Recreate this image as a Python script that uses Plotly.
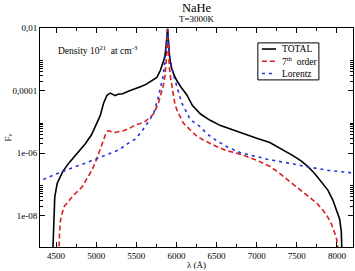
import plotly.graph_objects as go

# ---------------- data ----------------
total_wl = [4455, 4462, 4471, 4484, 4514, 4550, 4583, 4658, 4750, 4865, 4940, 4990,
            5050, 5093, 5135, 5176, 5210, 5238, 5270, 5300, 5330, 5400, 5486, 5560,
            5620, 5700, 5756, 5800, 5818, 5840, 5859, 5872, 5880, 5886, 5890, 5894,
            5900, 5912, 5925, 5942, 5970, 6004, 6060, 6128, 6200, 6300, 6420, 6550,
            6700, 6850, 7000, 7163, 7300, 7452, 7557, 7639, 7722, 7825, 7887, 7949,
            8000, 8033, 8054, 8062, 8066]
total_f = [3.2e-10, 1.6e-09, 1.0e-08, 4.0e-08, 1.07e-07, 1.78e-07, 2.57e-07, 4.8e-07,
           9.3e-07, 2.0e-06, 3.8e-06, 7.1e-06, 1.58e-05, 4.0e-05, 7.1e-05, 8.3e-05,
           7.4e-05, 6.9e-05, 7.6e-05, 7.9e-05, 7.9e-05, 9.5e-05, 1.12e-04, 1.35e-04,
           1.58e-04, 2.09e-04, 2.63e-04, 4.47e-04, 6.0e-04, 8.9e-04, 1.41e-03, 2.5e-03,
           4.5e-03, 7.9e-03, 9.5e-03, 7.1e-03, 3.5e-03, 1.41e-03, 7.9e-04, 5.0e-04,
           3.16e-04, 2.09e-04, 1.26e-04, 7.4e-05, 3.3e-05, 1.78e-05, 1.12e-05, 7.6e-06,
           5.6e-06, 4.0e-06, 3.0e-06, 2.19e-06, 1.41e-06, 8.3e-07, 5.6e-07, 3.7e-07,
           2.24e-07, 1.07e-07, 6.6e-08, 3.16e-08, 1.41e-08, 7.9e-09, 3.16e-09, 1.0e-09,
           3.2e-10]

order7_wl = [4530, 4534, 4545, 4555, 4596, 4650, 4700, 4824, 4948, 5011, 5073, 5090,
             5120, 5140, 5160, 5200, 5238, 5290, 5341, 5420, 5486, 5550, 5610, 5672,
             5714, 5776, 5818, 5840, 5859, 5872, 5880, 5886, 5890, 5894, 5900, 5912,
             5925, 5942, 5960, 5983, 6010, 6045, 6086, 6169, 6253, 6335, 6420, 6501,
             6625, 6749, 6870, 6998, 7100, 7163, 7287, 7400, 7494, 7580, 7660, 7750,
             7825, 7880, 7929, 7965, 7991, 8005, 8012, 8018]
order7_f = [3.2e-10, 1.0e-09, 3.2e-09, 7.2e-09, 1.9e-08, 2.8e-08, 4.0e-08, 8.3e-08,
            2.9e-07, 6.9e-07, 2.09e-06, 2.8e-06, 4.2e-06, 5.0e-06, 5.2e-06, 4.7e-06,
            4.6e-06, 4.9e-06, 5.2e-06, 6.3e-06, 7.9e-06, 8.9e-06, 1.02e-05, 1.41e-05,
            1.78e-05, 4.0e-05, 8.9e-05, 1.58e-04, 3.16e-04, 7.9e-04, 1.78e-03, 5.0e-03,
            8.9e-03, 4.0e-03, 1.41e-03, 5.6e-04, 2.8e-04, 1.41e-04, 7.9e-05, 3.5e-05,
            2.24e-05, 1.51e-05, 9.1e-06, 5.6e-06, 3.5e-06, 2.63e-06, 2.0e-06, 1.62e-06,
            1.2e-06, 1.0e-06, 7.9e-07, 6.0e-07, 4.5e-07, 3.8e-07, 2.24e-07, 1.32e-07,
            8.3e-08, 5.6e-08, 4.0e-08, 2.5e-08, 1.51e-08, 9.5e-09, 5.6e-09, 3.16e-09,
            2.09e-09, 1.26e-09, 1.0e-09, 3.2e-10]

lorentz_wl = [4340, 4576, 4865, 5073, 5279, 5403, 5486, 5569, 5640, 5714, 5776, 5838,
              5866, 5883, 5890, 5897, 5910, 5921, 5962, 6024, 6066, 6128, 6169, 6294,
              6377, 6501, 6625, 6790, 6915, 7142, 7400, 7618, 7900, 8200]
lorentz_f = [1.45e-07, 2.57e-07, 4.8e-07, 7.8e-07, 1.26e-06, 2.09e-06, 2.8e-06, 5.0e-06,
             8.9e-06, 1.78e-05, 6.3e-05, 3.2e-04, 1.82e-03, 5.0e-03, 9.3e-03, 4.0e-03,
             1.58e-03, 1.0e-03, 3.2e-04, 1.0e-04, 4.0e-05, 2.0e-05, 1.2e-05, 7.1e-06,
             4.2e-06, 2.5e-06, 1.62e-06, 1.05e-06, 8.7e-07, 6.3e-07, 4.8e-07, 3.7e-07,
             2.8e-07, 2.34e-07]

x_ticks = [4500, 5000, 5500, 6000, 6500, 7000, 7500, 8000]
y_ticks = [1e-2, 1e-4, 1e-6, 1e-8]
y_ticktext = ["0,01", "0,0001", "1e-06", "1e-08"]
y_minor = [k * 10.0 ** e for e in (-4, -6, -8) for k in range(2, 10)]

series_names = ["TOTAL", "7<sup>th</sup>  order", "Lorentz"]
series_colors = ["#000000", "#d81e1e", "#2233dd"]
series_dash = ["solid", "5px,3px", "3px,4px"]

FONT = "Liberation Serif, Times New Roman, serif"

fig = go.Figure()
for wl, f, name, col, dash in zip([total_wl, order7_wl, lorentz_wl],
                                   [total_f, order7_f, lorentz_f],
                                   series_names, series_colors, series_dash):
    fig.add_trace(go.Scatter(x=wl, y=f, mode="lines", name=name,
                             line=dict(color=col, width=1.6, dash=dash),
                             showlegend=False, hoverinfo="skip"))

axis_common = dict(showline=True, linecolor="#000000", linewidth=1, mirror="ticks",
                   showgrid=False, zeroline=False, ticks="inside",
                   tickcolor="#000000", tickwidth=1, ticklen=5,
                   tickfont=dict(family=FONT, size=9, color="#000000"))

fig.update_xaxes(range=[4300, 8200], tickmode="array", tickvals=x_ticks,
                 minor=dict(dtick=250, tick0=4500, ticks="inside", ticklen=3,
                            tickcolor="#000000", showgrid=False),
                 **axis_common)
fig.update_yaxes(type="log", range=[-9, -2], tickmode="array", tickvals=y_ticks,
                 ticktext=y_ticktext,
                 minor=dict(tickmode="array", tickvals=y_minor, ticks="inside",
                            ticklen=3, tickcolor="#000000", showgrid=False),
                 **axis_common)

# ---------------- legend drawn as a small box ----------------
lx0, lx1, ly0, ly1 = 0.696, 0.891, 0.763, 0.932
fig.add_shape(type="rect", xref="paper", yref="paper", x0=lx0, x1=lx1, y0=ly0, y1=ly1,
              line=dict(color="#000000", width=1), fillcolor="#ffffff")
rows = [0.904, 0.848, 0.792]
for yy, name, col, dash in zip(rows, series_names, series_colors, series_dash):
    fig.add_shape(type="line", xref="paper", yref="paper", x0=0.709, x1=0.754,
                  y0=yy, y1=yy, line=dict(color=col, width=1.6, dash=dash))
    fig.add_annotation(xref="paper", yref="paper", x=0.766, y=yy, text=name,
                       showarrow=False, xanchor="left", yanchor="middle",
                       font=dict(family=FONT, size=9.5, color="#000000"))

annots = [
    dict(x=0.5, y=1.091, text="NaHe", size=12.5),
    dict(x=0.5, y=1.041, text="T=3000K", size=9),
]
for a in annots:
    fig.add_annotation(xref="paper", yref="paper", x=a["x"], y=a["y"], text=a["text"],
                       showarrow=False, xanchor="center", yanchor="middle",
                       font=dict(family=FONT, size=a["size"], color="#000000"))

fig.add_annotation(xref="paper", yref="paper", x=0.051, y=0.900,
                   text="Density 10<sup>21</sup>  at cm<sup>-3</sup>",
                   showarrow=False, xanchor="left", yanchor="middle",
                   font=dict(family=FONT, size=9.5, color="#000000"))
fig.add_annotation(xref="paper", yref="paper", x=0.5, y=-0.082, text="λ (Å)",
                   showarrow=False, xanchor="center", yanchor="middle",
                   font=dict(family=FONT, size=9, color="#000000"))
fig.add_annotation(xref="paper", yref="paper", x=-0.102, y=0.5, text="F<sub>ν</sub>",
                   showarrow=False, textangle=-90, xanchor="center", yanchor="middle",
                   font=dict(family=FONT, size=9, color="#000000"))

fig.update_layout(width=355, height=271,
                  margin=dict(l=40, r=2, t=28, b=24, pad=0),
                  paper_bgcolor="#ffffff", plot_bgcolor="#ffffff",
                  showlegend=False, hovermode=False)

fig.write_html("out.html", config={"displayModeBar": False, "staticPlot": True},
               post_script="document.body.style.margin='0';document.body.style.overflow='hidden';")
